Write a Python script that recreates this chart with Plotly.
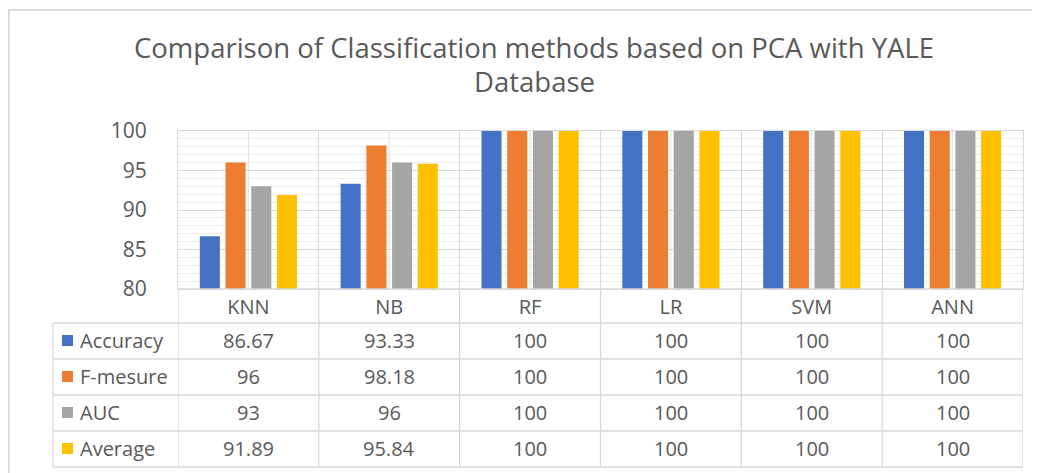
import plotly.graph_objects as go

categories = ["KNN", "NB", "RF", "LR", "SVM", "ANN"]
series_names = ["Accuracy", "F-mesure", "AUC", "Average"]
accuracy = [86.67, 93.33, 100, 100, 100, 100]
f_mesure = [96, 98.18, 100, 100, 100, 100]
auc = [93, 96, 100, 100, 100, 100]
average = [91.89, 95.84, 100, 100, 100, 100]
series_values = [accuracy, f_mesure, auc, average]
colors = ["#4472C4", "#ED7D31", "#A5A5A5", "#FFC000"]
title_lines = ["Comparison of Classification methods based on PCA with YALE", "Database"]

OFF = 8  # page body margin
W, H = 1040 - OFF, 473 - OFF
PL, PR, PT, PB = 178, 1023, 131, 289  # plot area in page px
TXT = "#595959"
LINE = "#d9d9d9"
FONT = "Open Sans"


def px_x(px):
    return (px - PL) / (PR - PL)


def px_y(py):
    return (PB - py) / (PB - PT)


fig = go.Figure()
for name, vals, col in zip(series_names, series_values, colors):
    fig.add_trace(go.Bar(x=categories, y=vals, name=name, marker=dict(color=col, line=dict(width=0)),
                         showlegend=False))

shapes = []
annotations = []

# category-center vertical gridlines inside plot
for i in range(len(categories)):
    shapes.append(dict(type="line", xref="x", yref="paper", x0=i, x1=i, y0=0, y1=1,
                       line=dict(color="#e3e3e3", width=1), layer="below"))

# table geometry
table_left = 53
row_tops = [323, 359, 395, 431]
row_h = 36
table_bottom = row_tops[-1] + row_h

for i in range(len(categories) + 1):
    shapes.append(dict(type="line", xref="x", yref="paper", x0=i - 0.5, x1=i - 0.5,
                       y0=px_y(table_bottom), y1=0, line=dict(color=LINE, width=1.3)))
shapes.append(dict(type="line", xref="paper", yref="paper", x0=px_x(table_left), x1=px_x(table_left),
                   y0=px_y(table_bottom), y1=px_y(row_tops[0]), line=dict(color=LINE, width=1.3)))
shapes.append(dict(type="line", xref="paper", yref="paper", x0=0, x1=1, y0=0, y1=0,
                   line=dict(color=LINE, width=1.3)))
for yt in row_tops + [table_bottom]:
    shapes.append(dict(type="line", xref="paper", yref="paper", x0=px_x(table_left), x1=1,
                       y0=px_y(yt), y1=px_y(yt), line=dict(color=LINE, width=1.3)))

TABLE_FS = 20
for r, (name, vals, col) in enumerate(zip(series_names, series_values, colors)):
    yc = row_tops[r] + row_h / 2 - 0.5
    shapes.append(dict(type="rect", xref="paper", yref="paper",
                       x0=px_x(62), x1=px_x(73), y0=px_y(yc + 5.5), y1=px_y(yc - 5.5),
                       fillcolor=col, line=dict(width=0)))
    annotations.append(dict(text=name, xref="paper", yref="paper", x=px_x(78), y=px_y(yc),
                            xanchor="left", yanchor="middle", showarrow=False,
                            font=dict(family=FONT, size=TABLE_FS, color=TXT)))
    for c, v in zip(categories, vals):
        annotations.append(dict(text=f"{v:g}", xref="x", yref="paper", x=c, y=px_y(yc),
                                xanchor="center", yanchor="middle", showarrow=False,
                                font=dict(family=FONT, size=TABLE_FS, color=TXT)))

for k, line in enumerate(title_lines):
    annotations.append(dict(text=line, xref="paper", yref="paper", x=px_x(534), y=px_y(47 + 35 * k),
                            xanchor="center", yanchor="middle", showarrow=False,
                            font=dict(family=FONT, size=27.5, color=TXT)))

# outer chart border (top & left visible)
shapes.append(dict(type="rect", xref="paper", yref="paper", x0=px_x(OFF + 1), x1=px_x(1080),
                   y0=px_y(520), y1=px_y(10), line=dict(color="#dcdcdc", width=2), layer="below"))

fig.update_layout(
    width=W, height=H,
    margin=dict(l=PL - OFF, r=W - (PR - OFF), t=PT - OFF, b=H - (PB - OFF), pad=0),
    paper_bgcolor="white", plot_bgcolor="white",
    barmode="group", bargap=0.27, bargroupgap=0.22,
    font=dict(family=FONT, color=TXT),
    shapes=shapes, annotations=annotations,
    showlegend=False,
    xaxis=dict(type="category", tickson="boundaries", showgrid=True, gridcolor=LINE, gridwidth=1.3,
               showline=True, linecolor=LINE, mirror=True, ticks="", ticklen=0,
               tickfont=dict(family=FONT, size=TABLE_FS, color=TXT), ticklabelstandoff=0,
               range=[-0.5, 5.5]),
    yaxis=dict(range=[80, 100], dtick=5, tick0=80, showgrid=True, gridcolor=LINE, gridwidth=1.3,
               minor=dict(dtick=1, showgrid=True, gridcolor="#eeeeee", gridwidth=1),
               showline=True, linecolor=LINE, mirror=True, zeroline=False, ticks="",
               tickfont=dict(family=FONT, size=21, color=TXT), ticklabelstandoff=26),
)

fig.write_html("out.html")
